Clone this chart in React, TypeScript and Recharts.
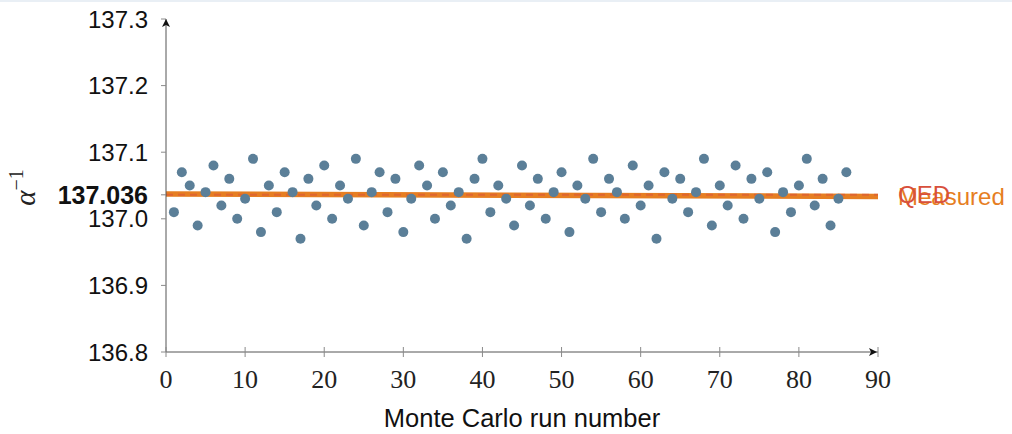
import { ComposedChart, Scatter, Line, XAxis, YAxis, LabelList } from 'recharts';

// Monte Carlo runs and the measured inverse fine-structure constant
const runs = [
  1, 2, 3, 4, 5, 6, 7, 8, 9, 10, 11, 12, 13, 14, 15, 16, 17, 18, 19, 20, 21, 22,
  23, 24, 25, 26, 27, 28, 29, 30, 31, 32, 33, 34, 35, 36, 37, 38, 39, 40, 41, 42, 43,
  44, 45, 46, 47, 48, 49, 50, 51, 52, 53, 54, 55, 56, 57, 58, 59, 60, 61, 62, 63, 64,
  65, 66, 67, 68, 69, 70, 71, 72, 73, 74, 75, 76, 77, 78, 79, 80, 81, 82, 83, 84, 85, 86,
];
const alphaInv = [
  137.01, 137.07, 137.05, 136.99, 137.04, 137.08, 137.02, 137.06, 137.0, 137.03,
  137.09, 136.98, 137.05, 137.01, 137.07, 137.04, 136.97, 137.06, 137.02, 137.08,
  137.0, 137.05, 137.03, 137.09, 136.99, 137.04, 137.07, 137.01, 137.06, 136.98,
  137.03, 137.08, 137.05, 137.0, 137.07, 137.02, 137.04, 136.97, 137.06, 137.09,
  137.01, 137.05, 137.03, 136.99, 137.08, 137.02, 137.06, 137.0, 137.04, 137.07,
  136.98, 137.05, 137.03, 137.09, 137.01, 137.06, 137.04, 137.0, 137.08, 137.02,
  137.05, 136.97, 137.07, 137.03, 137.06, 137.01, 137.04, 137.09, 136.99, 137.05,
  137.02, 137.08, 137.0, 137.06, 137.03, 137.07, 136.98, 137.04, 137.01, 137.05,
  137.09, 137.02, 137.06, 136.99, 137.03, 137.07,
];

// measured trend line and QED reference value
const measuredRuns = [0, 90];
const measuredValues = [137.0372, 137.0335];
const qedRuns = [0, 90];
const qedValues = [137.036, 137.036];

const xTicks = [0, 10, 20, 30, 40, 50, 60, 70, 80, 90];
const yTicks = [136.8, 136.9, 137.0, 137.036, 137.1, 137.2, 137.3];
const highlightTick = 137.036;

const runData = runs.map((run, i) => ({ run, alpha: alphaInv[i] }));
const measuredData = measuredRuns.map((run, i) => ({ run, alpha: measuredValues[i] }));
const qedData = qedRuns.map((run, i) => ({ run, alpha: qedValues[i] }));

const AXIS = '#555';
const TICK = '#8a8a8a';
const DOT = '#5b7f98';
const ORANGE = '#e67e22';
const RED = '#d8503c';

const XTick = (props: any) => {
  const { x, y, payload } = props;
  const axisY = y - 13;
  const last = payload.value === xTicks[xTicks.length - 1];
  return (
    <g>
      <line x1={x} y1={axisY - 5} x2={x} y2={axisY + 5} stroke={TICK} />
      {last && (
        <path d={`M${x - 1} ${axisY} L${x - 9} ${axisY - 4} L${x - 7} ${axisY} L${x - 9} ${axisY + 4} Z`} fill="#111" />
      )}
      <text x={x} y={axisY + 36} textAnchor="middle" fontFamily="Liberation Serif" fontSize={26} fill="#222">
        {payload.value}
      </text>
    </g>
  );
};

const YTick = (props: any) => {
  const { x, y, payload } = props;
  const bold = payload.value === highlightTick;
  const axisX = x + 18;
  const last = payload.value === yTicks[yTicks.length - 1];
  return (
    <g>
      {last && (
        <path d={`M${axisX} ${y} L${axisX - 4} ${y + 8} L${axisX} ${y + 6} L${axisX + 4} ${y + 8} Z`} fill="#111" />
      )}
      <text
        x={x}
        y={y}
        dy="0.36em"
        textAnchor="end"
        fontFamily="Liberation Sans"
        fontSize={bold ? 25 : 24}
        fontWeight={bold ? 'bold' : 'normal'}
        fill="#111"
      >
        {bold ? payload.value.toFixed(3) : payload.value.toFixed(1)}
      </text>
    </g>
  );
};

const AlphaLabel = ({ viewBox }: any) => {
  const cx = viewBox.x + 35;
  const cy = viewBox.y + viewBox.height / 2 + 2;
  return (
    <text
      x={cx}
      y={cy}
      transform={`rotate(-90 ${cx} ${cy})`}
      textAnchor="middle"
      fontFamily="Liberation Serif"
      fontSize={29}
      fill="#222"
    >
      <tspan fontStyle="italic">α</tspan>
      <tspan dy={-12} fontSize={20}>−1</tspan>
    </text>
  );
};

const RunLabel = ({ viewBox }: any) => (
  <text
    x={viewBox.x + viewBox.width / 2}
    y={viewBox.y + 75}
    textAnchor="middle"
    fontFamily="Liberation Sans"
    fontSize={25.5}
    fill="#111"
  >
    Monte Carlo run number
  </text>
);

const endLabel = (text: string, color: string) => (props: any) => {
  if (props.index !== 1) return null;
  return (
    <text x={props.x + 20} y={props.y} dy="0.36em" fontFamily="Liberation Sans" fontSize={24} fill={color}>
      {text}
    </text>
  );
};

export default function App() {
  return (
    <div style={{ position: 'absolute', left: 0, top: 0, width: 1012, height: 434, background: '#fff' }}>
      <div style={{ position: 'absolute', left: 0, top: 0, width: 1012, height: 2, background: '#e9eff5' }} />
      <ComposedChart width={1012} height={434} margin={{ top: 19, right: 134, bottom: 0, left: 0 }}>
        <XAxis
          dataKey="run"
          type="number"
          domain={[0, 90]}
          ticks={xTicks}
          interval={0}
          height={82}
          stroke={AXIS}
          tickLine={false}
          tickSize={5}
          tickMargin={8}
          tick={<XTick />}
          label={<RunLabel />}
        />
        <YAxis
          dataKey="alpha"
          type="number"
          domain={[136.8, 137.3]}
          ticks={yTicks}
          interval={0}
          width={166}
          stroke={AXIS}
          tickLine={{ stroke: TICK }}
          tickSize={5}
          tickMargin={13}
          tick={<YTick />}
          label={<AlphaLabel />}
        />
        <Line
          data={measuredData}
          dataKey="alpha"
          stroke={ORANGE}
          strokeWidth={5.5}
          dot={false}
          isAnimationActive={false}
        >
          <LabelList content={endLabel('Measured', ORANGE)} />
        </Line>
        <Line
          data={qedData}
          dataKey="alpha"
          stroke={RED}
          strokeOpacity={0.55}
          strokeWidth={2}
          strokeDasharray="7 5"
          dot={false}
          isAnimationActive={false}
        >
          <LabelList content={endLabel('QED', RED)} />
        </Line>
        <Scatter
          data={runData}
          dataKey="alpha"
          isAnimationActive={false}
          shape={(p: any) => <circle cx={p.cx} cy={p.cy} r={5} fill={DOT} />}
        />
      </ComposedChart>
    </div>
  );
}
